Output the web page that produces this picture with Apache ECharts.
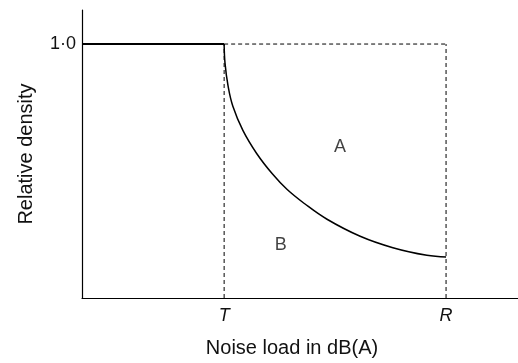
<!DOCTYPE html>
<html>
<head>
<meta charset="utf-8">
<script src="https://cdn.jsdelivr.net/npm/echarts@6/dist/echarts.min.js"></script>
<style>
  html, body { margin: 0; padding: 0; background: #fff; }
  #chart { width: 518px; height: 363px; }
</style>
</head>
<body>
<div id="chart"></div>
<script>
// threshold T and limit R on the noise axis
var T = 3.26;
var R = 8.35;
var flatPart = [[0, 1], [T, 1]];
var curveX = [3.26, 3.28, 3.35, 3.46, 3.69, 4.01, 4.36, 4.70, 5.10, 5.62, 6.38, 7.13, 7.91, 8.35];
var curveY = [1.0, 0.925, 0.835, 0.755, 0.660, 0.568, 0.490, 0.428, 0.372, 0.310, 0.243, 0.198, 0.168, 0.161];
var regionNames = ['A', 'B'];
var regionPos = [[5.92, 0.594], [4.56, 0.209]];

var curve = curveX.map(function (x, i) { return [x, curveY[i]]; });
var dash = { color: '#000', width: 1, type: [4, 3] };
var font = 'Liberation Sans, Arial, sans-serif';

var chart = echarts.init(document.getElementById('chart'));
chart.setOption({
    animation: false,
    grid: { left: 82, right: 0, top: 10, bottom: 65 },
    xAxis: {
        type: 'value', min: 0, max: 10,
        name: 'Noise load in dB(A)',
        nameLocation: 'middle', nameGap: 40,
        nameTextStyle: { fontSize: 20, color: '#111', fontFamily: font, padding: [0, 16, 0, 0] },
        axisLine: { lineStyle: { color: '#000', width: 1.2 } },
        axisTick: { show: false },
        splitLine: { show: false },
        axisLabel: {
            customValues: [T, R],
            formatter: function (v) { return v === T ? 'T' : 'R'; },
            fontStyle: 'italic', fontSize: 18, color: '#111', fontFamily: font, margin: 9
        }
    },
    yAxis: {
        type: 'value', min: 0, max: 1.134,
        name: 'Relative density',
        nameLocation: 'middle', nameGap: 46,
        nameTextStyle: { fontSize: 20, color: '#111', fontFamily: font },
        axisLine: { show: true, lineStyle: { color: '#000', width: 1.2 } },
        axisTick: { show: false },
        splitLine: { show: false },
        axisLabel: {
            customValues: [1],
            formatter: function () { return '1·0'; },
            fontSize: 18, color: '#111', fontFamily: font, margin: 6
        }
    },
    series: [
        { type: 'line', data: flatPart, symbol: 'none', lineStyle: { color: '#000', width: 2 } },
        {
            type: 'line', data: curve, symbol: 'none', smooth: 0.4,
            lineStyle: { color: '#000', width: 1.5 }
        },
        { type: 'line', data: [[T, 1], [R, 1]], symbol: 'none', lineStyle: dash },
        { type: 'line', data: [[T, 0], [T, 1]], symbol: 'none', lineStyle: dash },
        { type: 'line', data: [[R, 0], [R, 1]], symbol: 'none', lineStyle: dash },
        {
            type: 'scatter', symbolSize: 0,
            data: regionPos.map(function (p, i) { return { name: regionNames[i], value: p }; }),
            label: {
                show: true, position: 'inside', formatter: '{b}',
                fontSize: 18, color: '#111', fontFamily: font
            }
        }
    ]
});
</script>
</body>
</html>
